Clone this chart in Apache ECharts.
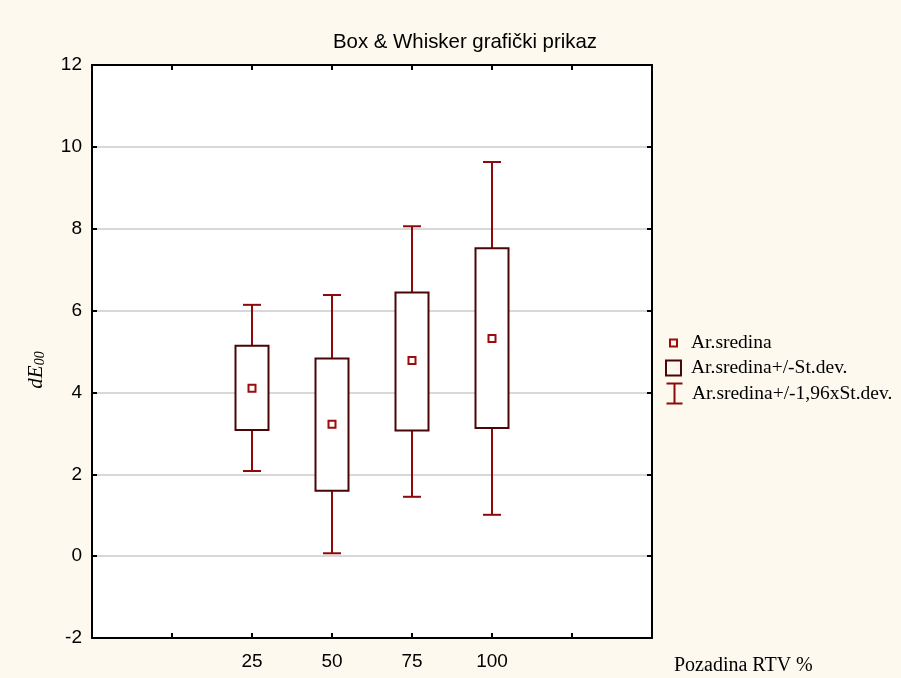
<!DOCTYPE html>
<html><head><meta charset="utf-8">
<script src="https://cdn.jsdelivr.net/npm/echarts@6/dist/echarts.min.js"></script>
<style>html,body{margin:0;padding:0;background:#FDF9EE}#c{width:901px;height:678px}</style>
</head><body><div id="c"></div>
<script>
const categories = [25, 50, 75, 100];
const means = [4.10, 3.22, 4.78, 5.32];
const sdLow = [3.08, 1.60, 3.07, 3.13];
const sdHigh = [5.14, 4.83, 6.44, 7.52];
const ciLow = [2.08, 0.07, 1.45, 1.01];
const ciHigh = [6.14, 6.38, 8.06, 9.63];
const xTickLabels = ['25', '50', '75', '100'];
const seriesNames = ['Ar.sredina', 'Ar.sredina+/-St.dev.', 'Ar.sredina+/-1,96xSt.dev.'];
const titleText = 'Box & Whisker grafički prikaz';
const xName = 'Pozadina RTV %';

const C_MEAN = '#9E0B0B', C_BOX = '#4A0606', C_WHISK = '#8E0A0A';
const SANS = 'Liberation Sans', SERIF = 'Liberation Serif';

const whiskerData = categories.map((c, i) => [c, ciLow[i], ciHigh[i]]);
const boxData = categories.map((c, i) => [c, sdLow[i], sdHigh[i]]);
const meanData = categories.map((c, i) => [c, means[i]]);

const chart = echarts.init(document.getElementById('c'));
const xBase = {
  type: 'value', min: -25, max: 150, interval: 25,
  axisLine: {show: true, onZero: false, lineStyle: {color: '#000', width: 2}},
  axisTick: {show: true, inside: true, length: 5, lineStyle: {color: '#000', width: 2}},
  splitLine: {show: false}
};
const yBase = {
  type: 'value', min: -2, max: 12, interval: 2,
  axisLine: {show: true, onZero: false, lineStyle: {color: '#000', width: 2}},
  axisTick: {show: true, inside: true, length: 5, lineStyle: {color: '#000', width: 2}}
};
const legendText = {fontFamily: SERIF, fontSize: 19.5, color: '#000'};
chart.setOption({
  backgroundColor: '#FDF9EE',
  animation: false,
  title: {text: titleText, left: 460, top: 27, textAlign: 'center',
    textStyle: {fontFamily: SANS, fontSize: 20.4, fontWeight: 'normal', color: '#000'}},
  grid: {left: 92, right: 249, top: 65, bottom: 40, show: true, backgroundColor: '#fff', borderWidth: 0},
  xAxis: [
    Object.assign({}, xBase, {position: 'bottom',
      axisLabel: {show: true, margin: 14, fontFamily: SANS, fontSize: 19, color: '#000',
        formatter: v => { const k = categories.indexOf(v); return k >= 0 ? xTickLabels[k] : ''; }}}),
    Object.assign({}, xBase, {position: 'top', axisLabel: {show: false}})
  ],
  yAxis: [
    Object.assign({}, yBase, {position: 'left',
      axisLabel: {show: true, margin: 10, fontFamily: SANS, fontSize: 19, color: '#000'},
      splitLine: {show: true, lineStyle: {color: '#D8D8D8', width: 2}}}),
    Object.assign({}, yBase, {position: 'right', axisLabel: {show: false}, splitLine: {show: false}})
  ],
  legend: [
    {data: [{name: seriesNames[0], icon: 'rect', itemStyle: {color: '#FDF9EE', borderColor: C_MEAN, borderWidth: 2}}],
      left: 664, top: 328, itemWidth: 7, itemHeight: 7, selectedMode: false,
      textStyle: Object.assign({padding: [0, 0, 0, 9]}, legendText)},
    {data: [{name: seriesNames[1], icon: 'rect', itemStyle: {color: 'rgba(0,0,0,0)', borderColor: C_BOX, borderWidth: 2}}],
      left: 660, top: 353, itemWidth: 15, itemHeight: 15, selectedMode: false,
      textStyle: Object.assign({padding: [0, 0, 0, 5]}, legendText)},
    {data: [{name: seriesNames[2], icon: 'path://M0,0H16M8,0V20M0,20H16', itemStyle: {color: 'none', borderColor: C_WHISK, borderWidth: 2}}],
      left: 659, top: 376, itemWidth: 17, itemHeight: 20, selectedMode: false,
      textStyle: Object.assign({padding: [0, 0, 0, 4]}, legendText)}
  ],
  graphic: [
    {type: 'text', x: 36, y: 370, rotation: Math.PI / 2,
      style: {text: '{a|dE}{b|00}', align: 'center', verticalAlign: 'middle',
        rich: {a: {fontFamily: SERIF, fontStyle: 'italic', fontSize: 21, fill: '#000', lineHeight: 26},
               b: {fontFamily: SERIF, fontStyle: 'italic', fontSize: 14, fill: '#000', lineHeight: 26, padding: [8, 0, 0, 0]}}}},
    {type: 'text', left: 674, top: 656, style: {text: xName, fontFamily: SERIF, fontSize: 20, fill: '#000'}}
  ],
  series: [
    {name: seriesNames[2], type: 'custom', data: whiskerData, encode: {x: 0, y: [1, 2]},
      renderItem: (p, api) => {
        const x = api.value(0);
        const lo = api.coord([x, api.value(1)]), hi = api.coord([x, api.value(2)]);
        const w = 9, st = {stroke: C_WHISK, lineWidth: 2};
        return {type: 'group', children: [
          {type: 'line', shape: {x1: lo[0], y1: lo[1], x2: hi[0], y2: hi[1]}, style: st},
          {type: 'line', shape: {x1: lo[0] - w, y1: lo[1], x2: lo[0] + w, y2: lo[1]}, style: st},
          {type: 'line', shape: {x1: hi[0] - w, y1: hi[1], x2: hi[0] + w, y2: hi[1]}, style: st}
        ]};
      }},
    {name: seriesNames[1], type: 'custom', data: boxData, encode: {x: 0, y: [1, 2]},
      renderItem: (p, api) => {
        const x = api.value(0);
        const lo = api.coord([x, api.value(1)]), hi = api.coord([x, api.value(2)]);
        const w = 16.5;
        return {type: 'rect', shape: {x: lo[0] - w, y: hi[1], width: 2 * w, height: lo[1] - hi[1]},
          style: {fill: '#fff', stroke: C_BOX, lineWidth: 2}};
      }},
    {name: seriesNames[0], type: 'custom', data: meanData, encode: {x: 0, y: 1},
      renderItem: (p, api) => {
        const pt = api.coord([api.value(0), api.value(1)]);
        const s = 3.5;
        return {type: 'rect', shape: {x: pt[0] - s, y: pt[1] - s, width: 2 * s, height: 2 * s},
          style: {fill: '#fff', stroke: C_MEAN, lineWidth: 2}};
      }}
  ]
});
</script></body></html>
